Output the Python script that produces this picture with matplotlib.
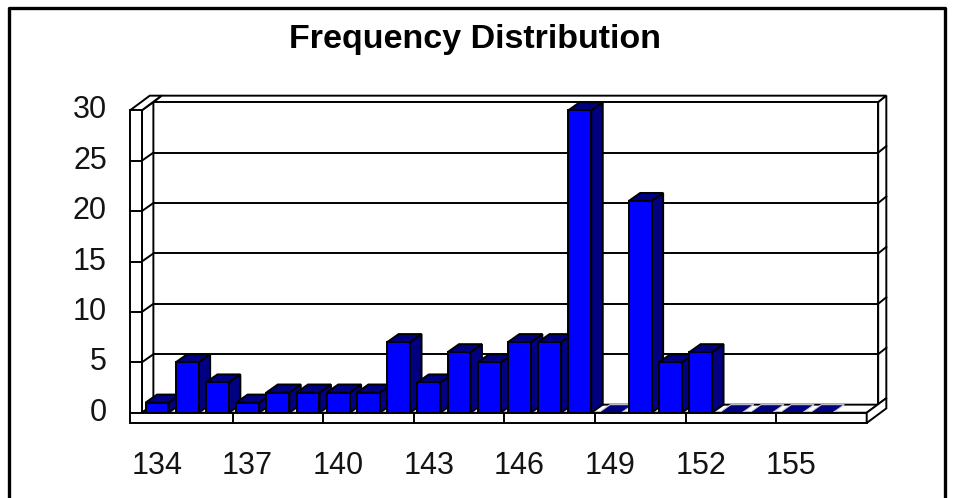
import matplotlib
matplotlib.use("Agg")
import matplotlib.pyplot as plt
from matplotlib.patches import Polygon, Rectangle
from matplotlib.lines import Line2D

# Data
bins = [134, 135, 136, 137, 138, 139, 140, 141, 142, 143, 144, 145,
        146, 147, 148, 149, 150, 151, 152, 153, 154, 155, 156]
counts = [1, 5, 3, 1, 2, 2, 2, 2, 7, 3, 6, 5,
          7, 7, 30, 0, 21, 5, 6, 0, 0, 0, 0]
x_tick_labels = ["134", "137", "140", "143", "146", "149", "152", "155"]
y_ticks = [0, 5, 10, 15, 20, 25, 30]

# Excel-ish 3D look
front = "#0000FF"
shade = "#000080"
edge = "black"
lw = 1.4
dx, dy = 0.38, 0.8      # bar / wall depth (data units)
dx2, dy2 = 0.27, 0.65   # wall slab thickness
bw = 0.38               # half bar width
n_slots = len(bins) + 1
left, right = -0.5, n_slots - 0.5
wall_l = -0.89
floor_b = -1.02
ymax = y_ticks[-1]

fig = plt.figure(figsize=(9.56, 4.98), dpi=100)
fig.patch.set_facecolor("white")
ax = fig.add_axes([0, 0, 1, 1])
ax.set_xlim(-5.199, 26.457)
ax.set_ylim(-8.46, 40.94)
ax.axis("off")


def poly(pts, fc, z):
    ax.add_patch(Polygon(pts, closed=True, facecolor=fc, edgecolor=edge,
                         linewidth=lw, zorder=z, joinstyle="miter"))


# back wall slab: top and right faces, then front face with gridlines
bl, br = left + dx, right + dx
poly([(bl, ymax + dy), (br, ymax + dy), (br + dx2, ymax + dy + dy2),
      (bl + dx2, ymax + dy + dy2)], "white", 1)
poly([(br, dy), (br, ymax + dy), (br + dx2, ymax + dy + dy2),
      (br + dx2, dy + dy2)], "white", 1)
poly([(bl, dy), (br, dy), (br, ymax + dy), (bl, ymax + dy)], "white", 1.5)
for v in y_ticks[1:-1]:
    ax.plot([bl, br], [v + dy, v + dy], color=edge, lw=lw, zorder=2)
    ax.plot([br, br + dx2], [v + dy, v + dy + dy2], color=edge, lw=lw, zorder=2)

# left wall slab
poly([(left, 0), (left, ymax), (bl, ymax + dy), (bl, dy)], "white", 2)
poly([(wall_l, ymax), (left, ymax), (bl + dx2, ymax + dy + dy2),
      (wall_l + dx + dx2, ymax + dy + dy2)], "white", 2)
poly([(wall_l, 0), (left, 0), (left, ymax), (wall_l, ymax)], "white", 2)
for v in y_ticks[1:-1]:
    ax.plot([wall_l, left], [v, v], color=edge, lw=lw, zorder=2.5)
    ax.plot([left, bl], [v, v + dy], color=edge, lw=lw, zorder=2.5)

# floor top
poly([(left, 0), (right, 0), (br, dy), (bl, dy)], "white", 2)

# bars
for i, v in enumerate(counts):
    z = 3 + i * 0.01
    x0, x1 = i - bw, i + bw
    if v > 0:
        poly([(x1, 0), (x1 + dx, dy), (x1 + dx, v + dy), (x1, v)], shade, z)
        poly([(x0, v), (x1, v), (x1 + dx, v + dy), (x0 + dx, v + dy)], shade, z)
        ax.add_patch(Rectangle((x0, 0), 2 * bw, v, facecolor=front,
                               edgecolor=edge, linewidth=lw, zorder=z))
    else:
        ax.add_patch(Polygon([(x0, 0), (x1, 0), (x1 + dx, dy), (x0 + dx, dy)],
                             closed=True, facecolor=shade, edgecolor="#d0d0d0",
                             linewidth=0.8, zorder=z))

# floor slab front and right face
poly([(wall_l, floor_b), (right, floor_b), (right, 0), (wall_l, 0)], "white", 4)
poly([(right, floor_b), (right, 0), (br + dx2, dy + dy2),
      (br + dx2, floor_b + dy + dy2)], "white", 4)
for k in range(len(x_tick_labels) - 1):
    xt = 3 * k + 2.5
    ax.plot([xt, xt], [floor_b, 0], color=edge, lw=lw, zorder=4.5)

# tick labels
txt = "#141414"
for v in y_ticks:
    ax.text(-1.66, v, str(v), ha="right", va="center", fontsize=22,
            family="Liberation Sans", color=txt)
for k, lab in enumerate(x_tick_labels):
    ax.text(3 * k, -5.3, lab, ha="center", va="center", fontsize=22,
            family="Liberation Sans", color=txt)

fig.text(0.497, 0.92, "Frequency Distribution", ha="center", va="center",
         fontsize=24.5, fontweight="bold", family="Liberation Sans", color="black")

# outer chart-area border (left, top, right)
W, H = 956, 498
bx0, bx1, by = 9 / W, 945 / W, 1 - 8 / H
fig.add_artist(Line2D([bx0, bx0, bx1, bx1], [0, by, by, 0],
                      transform=fig.transFigure, color="black", lw=2.4))

fig.savefig("out.png", dpi=100, facecolor="white")
